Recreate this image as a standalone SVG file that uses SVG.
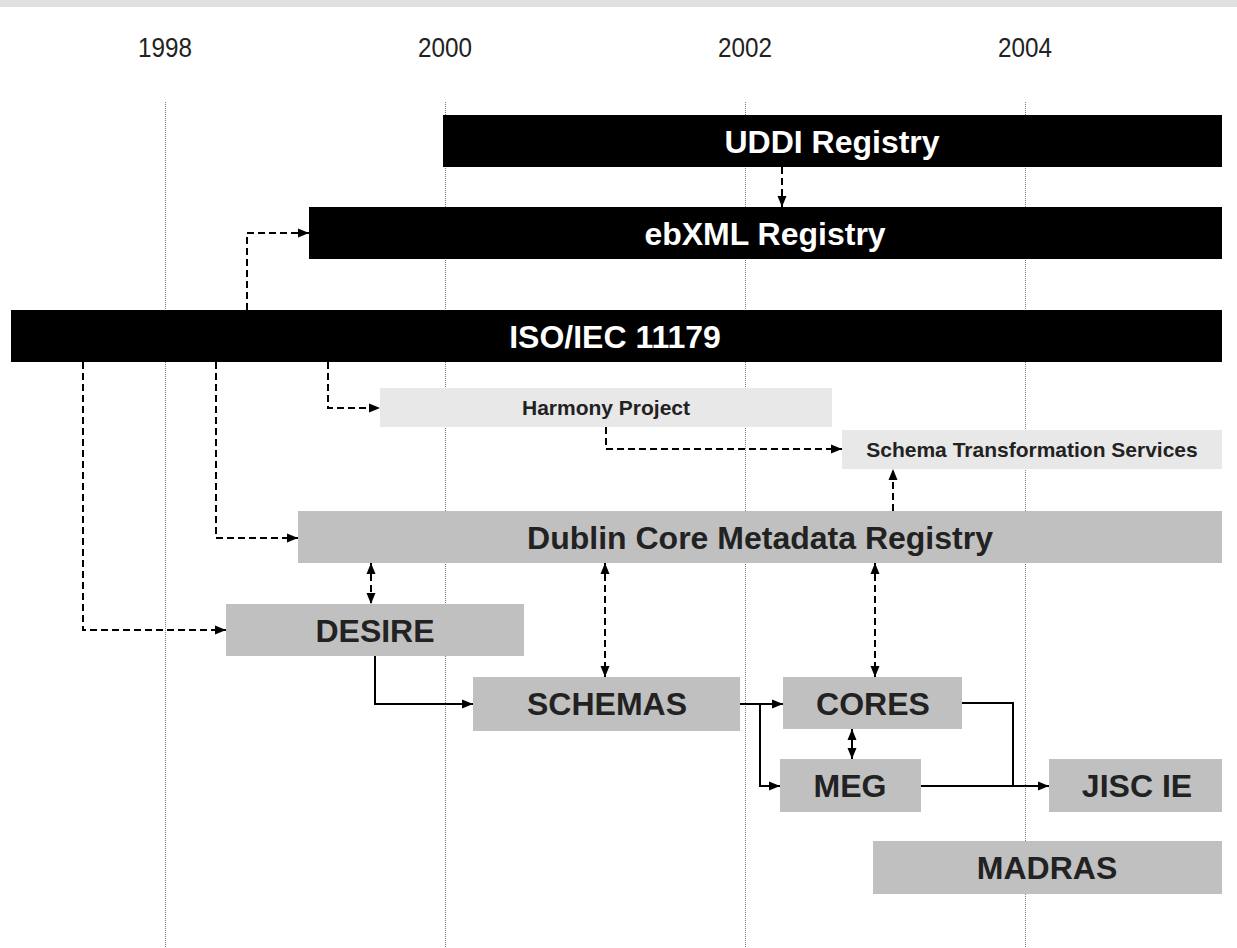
<svg xmlns="http://www.w3.org/2000/svg" width="1237" height="948" viewBox="0 0 1237 948">
<defs>
<style>
.grid{stroke:#7a7a7a;stroke-width:1;stroke-dasharray:1 1;fill:none}
.year{font-family:"Liberation Sans",Arial,sans-serif;font-size:27px;fill:#222;text-anchor:middle}
.blk{fill:#000}
.lt{fill:#e8e8e8}
.md{fill:#c0c0c0}
.tw{font-family:"Liberation Sans",Arial,sans-serif;font-weight:bold;font-size:32px;fill:#fff;text-anchor:middle}
.tb{font-family:"Liberation Sans",Arial,sans-serif;font-weight:bold;font-size:32px;fill:#222;text-anchor:middle}
.ts{font-family:"Liberation Sans",Arial,sans-serif;font-weight:bold;font-size:21px;fill:#222;text-anchor:middle}
.dash{fill:none;stroke:#000;stroke-width:2;stroke-dasharray:7 4}
.sol{fill:none;stroke:#000;stroke-width:2}
</style>
<marker id="ah" markerUnits="userSpaceOnUse" markerWidth="12" markerHeight="10" refX="11" refY="5" orient="auto-start-reverse" viewBox="0 0 12 10">
<path d="M0,0.5 L11,5 L0,9.5 z" fill="#000"/>
</marker>
</defs>
<rect x="0" y="0" width="1237" height="948" fill="#fff"/>
<rect x="0" y="0" width="1237" height="7" fill="#e0e0e0"/>
<g id="timeline">
<text class="year" x="165" y="57" textLength="54" lengthAdjust="spacingAndGlyphs">1998</text>
<text class="year" x="445" y="57" textLength="54" lengthAdjust="spacingAndGlyphs">2000</text>
<text class="year" x="745" y="57" textLength="54" lengthAdjust="spacingAndGlyphs">2002</text>
<text class="year" x="1025" y="57" textLength="54" lengthAdjust="spacingAndGlyphs">2004</text>
<line class="grid" x1="165.5" y1="102" x2="165.5" y2="948"/>
<line class="grid" x1="445.5" y1="102" x2="445.5" y2="948"/>
<line class="grid" x1="745.5" y1="102" x2="745.5" y2="948"/>
<line class="grid" x1="1025.5" y1="102" x2="1025.5" y2="948"/>
</g>
<g id="uddi"><rect class="blk" x="443" y="115" width="779" height="52"/><text class="tw" x="832" y="152.5">UDDI Registry</text></g>
<g id="ebxml"><rect class="blk" x="309" y="207" width="913" height="52"/><text class="tw" x="765" y="244.5">ebXML Registry</text></g>
<g id="iso"><rect class="blk" x="11" y="310" width="1211" height="52"/><text class="tw" x="615" y="347.5">ISO/IEC 11179</text></g>
<g id="harmony"><rect class="lt" x="380" y="388" width="452" height="39"/><text class="ts" x="606" y="415">Harmony Project</text></g>
<g id="sts"><rect class="lt" x="842" y="430" width="380" height="39"/><text class="ts" x="1032" y="457">Schema Transformation Services</text></g>
<g id="dcmr"><rect class="md" x="298" y="511" width="924" height="52"/><text class="tb" x="760" y="549">Dublin Core Metadata Registry</text></g>
<g id="desire"><rect class="md" x="226" y="604" width="298" height="52"/><text class="tb" x="375" y="641.5">DESIRE</text></g>
<g id="schemas"><rect class="md" x="473" y="677" width="267" height="54"/><text class="tb" x="607" y="715">SCHEMAS</text></g>
<g id="cores"><rect class="md" x="783" y="677" width="179" height="52"/><text class="tb" x="873" y="714.5">CORES</text></g>
<g id="meg"><rect class="md" x="780" y="759" width="141" height="53"/><text class="tb" x="850" y="797">MEG</text></g>
<g id="jisc"><rect class="md" x="1049" y="759" width="173" height="53"/><text class="tb" x="1137" y="797">JISC IE</text></g>
<g id="madras"><rect class="md" x="873" y="841" width="349" height="53"/><text class="tb" x="1047" y="879">MADRAS</text></g>
<g id="connectors">
<path class="dash" d="M782,167 V207" marker-end="url(#ah)"/>
<path class="dash" d="M247,310 V233 H309" marker-end="url(#ah)"/>
<path class="dash" d="M328,362 V408 H380" marker-end="url(#ah)"/>
<path class="dash" d="M606,427 V449 H842" marker-end="url(#ah)"/>
<path class="dash" d="M893,511 V469" marker-end="url(#ah)"/>
<path class="dash" d="M216,362 V538 H298" marker-end="url(#ah)"/>
<path class="dash" d="M83,362 V630 H226" marker-end="url(#ah)"/>
<path class="dash" d="M371,563 V604" marker-start="url(#ah)" marker-end="url(#ah)"/>
<path class="dash" d="M605,563 V677" marker-start="url(#ah)" marker-end="url(#ah)"/>
<path class="dash" d="M875,563 V677" marker-start="url(#ah)" marker-end="url(#ah)"/>
<path class="sol" d="M375,656 V704 H473" marker-end="url(#ah)"/>
<path class="sol" d="M740,704 H783" marker-end="url(#ah)"/>
<path class="sol" d="M760,704 V786 H780" marker-end="url(#ah)"/>
<path class="sol" d="M852,729 V759" marker-start="url(#ah)" marker-end="url(#ah)"/>
<path class="sol" d="M962,703 H1013 V786"/>
<path class="sol" d="M921,786 H1049" marker-end="url(#ah)"/>
</g>
</svg>
